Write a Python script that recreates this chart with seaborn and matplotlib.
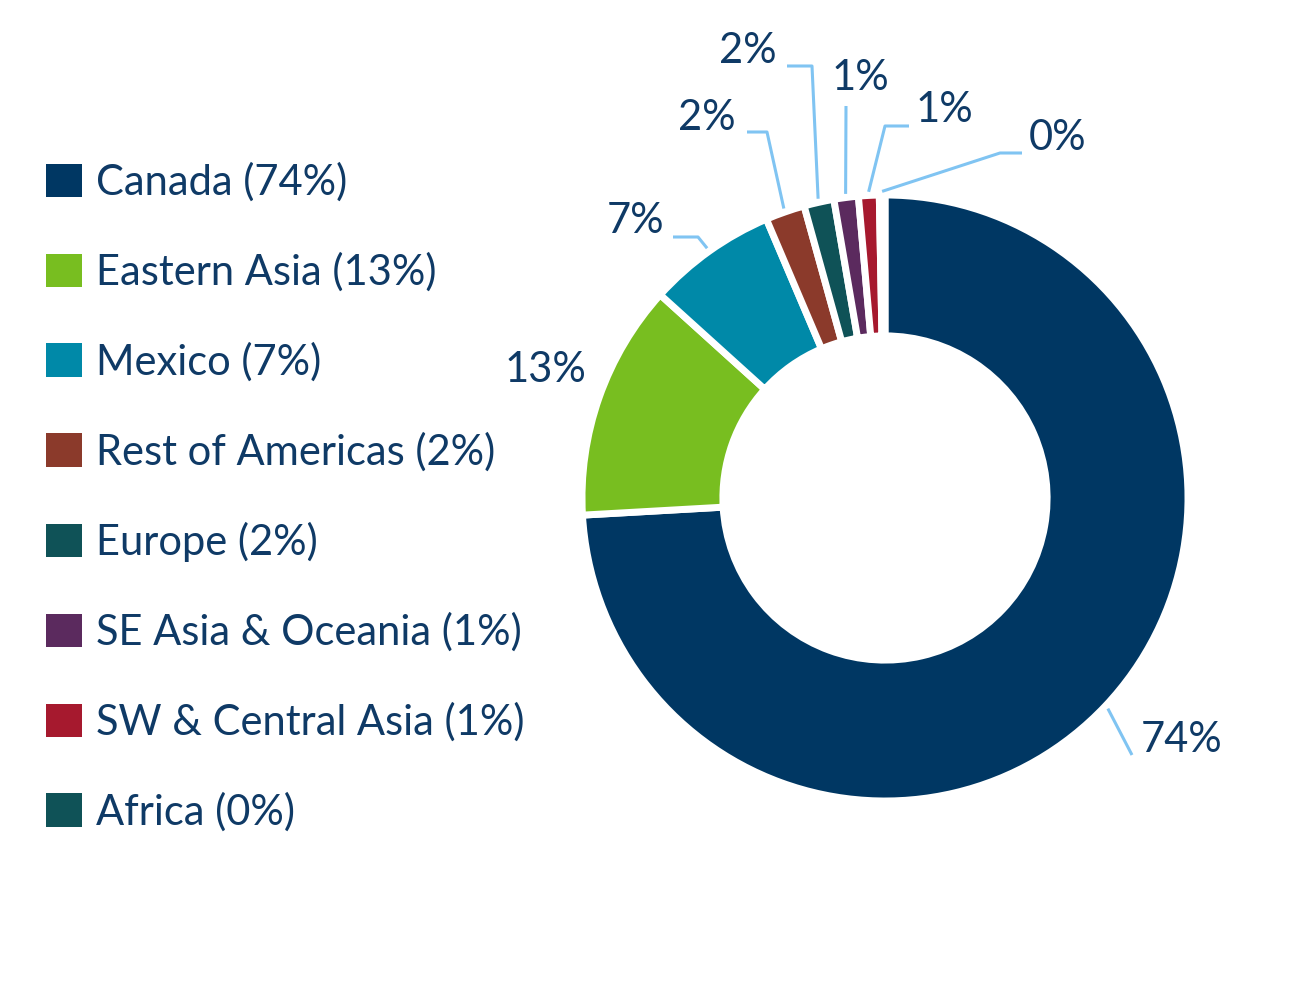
import numpy as np
import seaborn as sns
import matplotlib.pyplot as plt
from matplotlib.patches import Patch

# regions and their shares of the total (percent)
regions = ["Canada", "Eastern Asia", "Mexico", "Rest of Americas", "Europe",
           "SE Asia & Oceania", "SW & Central Asia", "Africa"]
shares = [74.1, 12.6, 6.9, 2.1, 1.6, 1.3, 1.1, 0.3]
shown_pct = [74, 13, 7, 2, 2, 1, 1, 0]
colors = ["#003763", "#78BE20", "#0089A8", "#8B3A2B", "#0F5257",
          "#5B2A5E", "#A6192E", "#0F5257"]

text_color = "#0F3A66"
line_color = "#80C4F2"

sns.set_theme(style="white")
plt.rcParams["font.family"] = ["Lato", "DejaVu Sans"]

W, H = 1303, 996
fig = plt.figure(figsize=(W / 100, H / 100), dpi=100)
ax = fig.add_axes([0, 0, 1, 1])

cx, cy, r = 885, 498, 303
wedges, _ = ax.pie(shares, colors=colors, startangle=90, counterclock=False,
                   center=(cx, cy), radius=r, frame=True,
                   wedgeprops=dict(width=r * 0.465, edgecolor="white", linewidth=5))
ax.set_xlim(0, W)
ax.set_ylim(0, H)
ax.set_aspect("equal")
ax.axis("off")

# label layout: text centre, and the leader line path from text to wedge (None = no line)
label_pos = [(1182, 256), (545, 626), (636, 775), (707, 878), (748, 945),
             (860, 918), (944, 886), (1058, 858)]
leader_pts = [
    [(1132, 241)],
    None,
    [(673, 759), (698, 759)],
    [(747, 864), (767, 864)],
    [(787, 930), (812, 930)],
    [(846, 890)],
    [(909, 870), (885, 870)],
    [(1022, 843), (1000, 843)],
]

for w, pct, pos, pts in zip(wedges, shown_pct, label_pos, leader_pts):
    ax.text(pos[0], pos[1], f"{pct}%", ha="center", va="center",
            fontsize=30, color=text_color)
    if pts is None:
        continue
    # leader line ends on the outer edge of the wedge, at its middle angle
    ang = np.deg2rad((w.theta1 + w.theta2) / 2)
    end = (cx + 1.012 * r * np.cos(ang), cy + 1.012 * r * np.sin(ang))
    path = pts + [end]
    ax.plot([p[0] for p in path], [p[1] for p in path], color=line_color,
            lw=2.2, solid_capstyle="butt")

handles = [Patch(facecolor=c, edgecolor="none") for c in colors]
labels = [f"{n} ({p}%)" for n, p in zip(regions, shown_pct)]
leg = fig.legend(handles, labels, loc="center left",
                 bbox_to_anchor=(46 / W, 499 / H), frameon=False,
                 fontsize=30, handlelength=0.86, handleheight=0.86,
                 handletextpad=0.34, labelspacing=1.21, borderpad=0,
                 borderaxespad=0)
for t in leg.get_texts():
    t.set_color(text_color)

fig.savefig("out.png", dpi=100)
